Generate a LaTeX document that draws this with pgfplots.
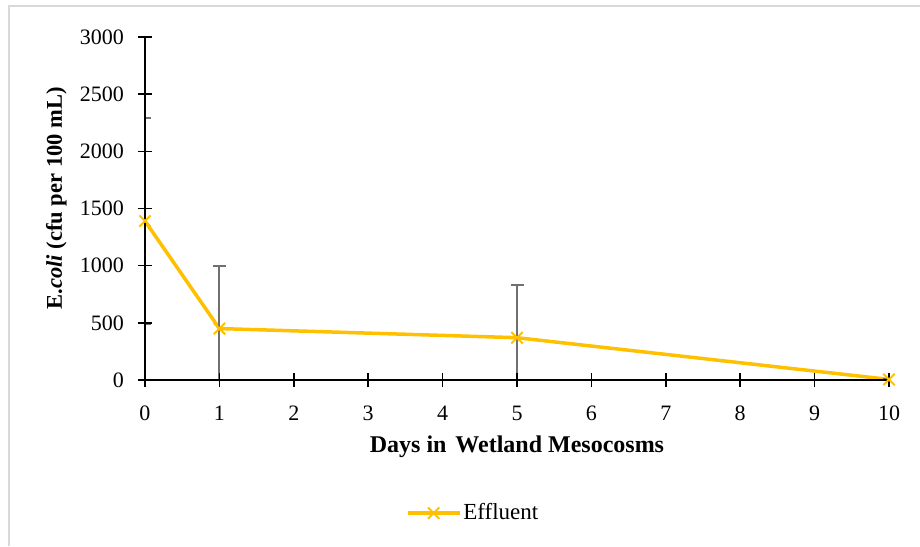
\documentclass[border=0pt]{standalone}
\usepackage{fontspec}
\setmainfont{Liberation Serif}
\usepackage{pgfplots}
\pgfplotsset{compat=1.18}
\definecolor{gold}{HTML}{FFC000}
\definecolor{errgray}{HTML}{707070}
\definecolor{bordergray}{HTML}{D9D9D9}
\begin{document}
\fontsize{22}{26}\selectfont
\begin{tikzpicture}[x=1pt,y=1pt]
\useasboundingbox (-145,-166) rectangle (775,380);
\draw[bordergray, line width=2pt] (-136,-166) -- (-136,374) -- (775,374);
\begin{axis}[
  at={(0,0)}, anchor=south west,
  scale only axis, width=744pt, height=343pt,
  xmin=0, xmax=10, ymin=0, ymax=3000,
  axis on top,
  axis lines=left,
  axis line style={-, black, line width=1.5pt},
  xtick={0,1,...,10}, ytick={0,500,...,3000},
  tick align=center, major tick length=14pt,
  tick style={black, line width=1.5pt},
  /pgf/number format/assume math mode=true,
  scaled y ticks=false,
  y tick label style={/pgf/number format/1000 sep={}},
  ticklabel style={font=\fontsize{22}{26}\selectfont},
  yticklabel style={inner sep=0pt, xshift=-14pt},
  xticklabel style={inner sep=0pt, yshift=-19pt},
  xlabel={\textbf{Days in\hspace{0.12em} Wetland Mesocosms}},
  ylabel={\textbf{E.\textit{coli} (cfu per 100 mL)}},
  xlabel style={font=\fontsize{24}{28}\selectfont, at={(axis description cs:0.5,-0.195)}, anchor=center},
  ylabel style={font=\fontsize{22.5}{26}\selectfont, at={(axis description cs:-0.119,0.53)}, anchor=center},
  legend style={at={(axis description cs:0.441,-0.388)}, anchor=center, draw=none, fill=none, font=\fontsize{23}{27}\selectfont},
  legend image code/.code={\draw[mark repeat=2,mark phase=2,#1] plot coordinates {(0pt,0pt) (26pt,0pt) (52pt,0pt)};},
]
\addplot[gold, line width=3.5pt, mark=x, mark size=8pt, mark options={line width=2pt},
  error bars/.cd, y dir=both, y explicit,
  error bar style={errgray, line width=2pt},
  error mark options={errgray, line width=2pt, mark size=6.5pt, rotate=90}]
  table[x=day, y=ecoli, y error=err] {
day ecoli err
0 1390 900
1 450 550
5 370 460
10 5 0
};
\addlegendentry{Effluent}
\end{axis}
\end{tikzpicture}
\end{document}
